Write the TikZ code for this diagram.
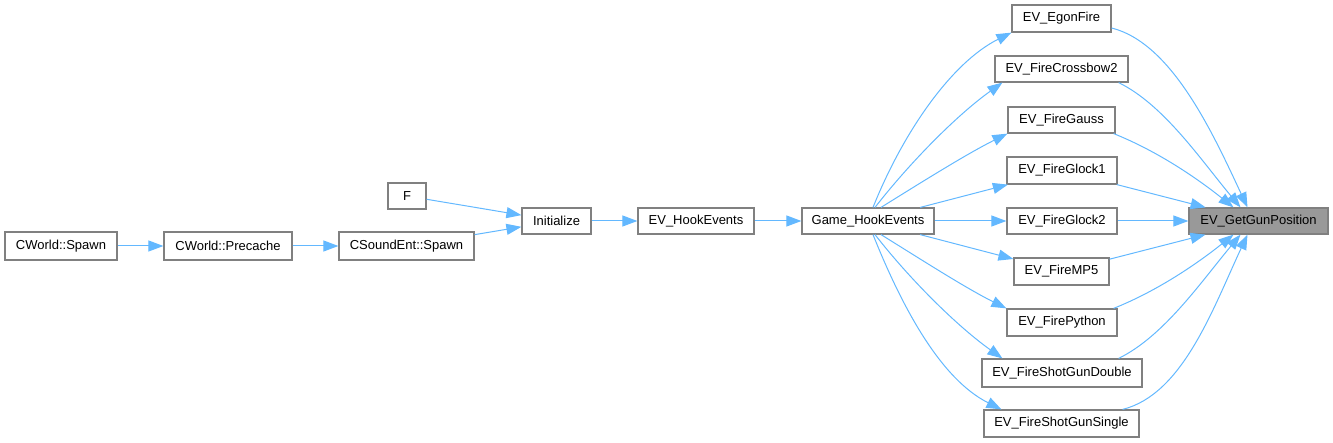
\documentclass[tikz,border=0pt]{standalone}
\usepackage{fontspec}
\setmainfont{Liberation Sans}
\usetikzlibrary{arrows.meta}
\definecolor{edgeblue}{HTML}{63B8FF}
\definecolor{boxborder}{HTML}{808080}
\definecolor{hlfill}{HTML}{999999}
\begin{document}
\begin{tikzpicture}[x=1pt,y=-1pt,
  box/.style={draw=boxborder,line width=1.2pt,fill=white,inner sep=0pt,
    minimum width=#1,minimum height=27pt,font=\fontsize{13}{15}\selectfont},
  hlbox/.style={box=#1,fill=hlfill},
  edge/.style={draw=edgeblue,line width=1pt,-{Triangle[length=15pt,width=11pt]}}]
\useasboundingbox (0,0) rectangle (1333,443);
% nodes
\node[box=112pt,minimum height=28pt] (cws) at (61,246) {CWorld::Spawn};
\node[box=128pt,minimum height=28pt] (cwp) at (228,246) {CWorld::Precache};
\node[box=135pt,minimum height=28pt] (cse) at (406.5,246) {CSoundEnt::Spawn};
\node[box=38pt,minimum height=26pt] (f) at (407,196) {F};
\node[box=69pt,minimum height=26pt] (ini) at (556.5,221) {Initialize};
\node[box=116pt,minimum height=26pt] (hook) at (696,221) {EV\_HookEvents};
\node[box=132pt,minimum height=26pt] (g) at (868,221) {Game\_HookEvents};
\node[box=99pt] (egon) at (1061.5,18.5) {EV\_EgonFire};
\node[box=133pt,minimum height=26pt] (cross) at (1061.5,69) {EV\_FireCrossbow2};
\node[box=107pt,minimum height=26pt] (gauss) at (1061.5,120) {EV\_FireGauss};
\node[box=110pt] (gl1) at (1062,170.5) {EV\_FireGlock1};
\node[box=110pt,minimum height=26pt] (gl2) at (1062,221) {EV\_FireGlock2};
\node[hlbox=139pt,minimum height=26pt] (ggp) at (1258.5,221) {EV\_GetGunPosition};
\node[box=95pt] (mp5) at (1061.5,271.5) {EV\_FireMP5};
\node[box=110pt] (py) at (1062,322.5) {EV\_FirePython};
\node[box=160pt,minimum height=28pt] (dbl) at (1062,373) {EV\_FireShotGunDouble};
\node[box=155pt] (sgl) at (1061.5,423.5) {EV\_FireShotGunSingle};
% left chain
\draw[edge] (cws) -- (cwp);
\draw[edge] (cwp) -- (cse);
\draw[edge] (cse) -- (ini);
\draw[edge] (f) -- (ini);
\draw[edge] (ini) -- (hook);
\draw[edge] (hook) -- (g);
% Game_HookEvents to callers
\draw[edge] ([xshift=5pt]g.north) .. controls +(30,-75) and +(-60,30) .. (egon.south west);
\draw[edge] ([xshift=7pt]g.north) .. controls +(35,-45) and +(-45,32) .. ([xshift=8pt]cross.south west);
\draw[edge] ([xshift=13pt]g.north) .. controls +(45,-28) and +(-40,20) .. (gauss.south west);
\draw[edge] (g) -- (gl1);
\draw[edge] (g) -- (gl2);
\draw[edge] (g) -- (mp5);
\draw[edge] ([xshift=13pt]g.south) .. controls +(45,28) and +(-40,-20) .. (py.north west);
\draw[edge] ([xshift=7pt]g.south) .. controls +(35,45) and +(-45,-32) .. ([xshift=21pt]dbl.north west);
\draw[edge] ([xshift=5pt]g.south) .. controls +(30,75) and +(-60,-30) .. ([xshift=18pt]sgl.north west);
% callers to EV_GetGunPosition
\draw[edge] ([yshift=-9.5pt]egon.east) .. controls +(60,15) and +(-35,-75) .. ([xshift=-11pt]ggp.north);
\draw[edge] ([xshift=-10pt]cross.south east) .. controls +(45,22) and +(-40,-48) .. ([xshift=-18pt]ggp.north);
\draw[edge] ([xshift=-2pt]gauss.south east) .. controls +(45,18) and +(-35,-28) .. ([xshift=-25pt]ggp.north);
\draw[edge] (gl1) -- (ggp);
\draw[edge] (gl2) -- (ggp);
\draw[edge] (mp5) -- (ggp);
\draw[edge] ([xshift=-4pt]py.north east) .. controls +(45,-18) and +(-35,28) .. ([xshift=-25pt]ggp.south);
\draw[edge] ([xshift=-24pt]dbl.north east) .. controls +(45,-22) and +(-40,48) .. ([xshift=-18pt]ggp.south);
\draw[edge] ([xshift=-17pt]sgl.north east) .. controls +(60,-15) and +(-35,75) .. ([xshift=-11pt]ggp.south);
\end{tikzpicture}
\end{document}
